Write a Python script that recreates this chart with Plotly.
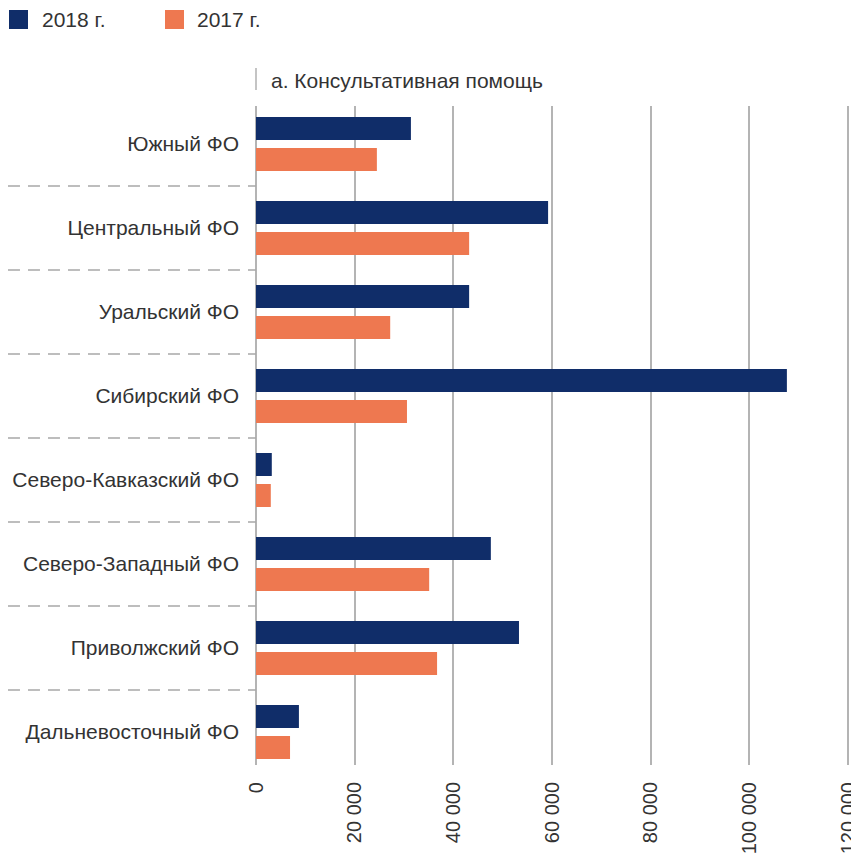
import plotly.graph_objects as go

categories = ["Южный ФО", "Центральный ФО", "Уральский ФО", "Сибирский ФО",
              "Северо-Кавказский ФО", "Северо-Западный ФО", "Приволжский ФО",
              "Дальневосточный ФО"]
values_2018 = [31400, 59200, 43200, 107600, 3200, 47600, 53300, 8700]
values_2017 = [24500, 43200, 27200, 30600, 3000, 35100, 36700, 6900]
series_names = ["2018 г.", "2017 г."]
tick_values = [0, 20000, 40000, 60000, 80000, 100000, 120000]
tick_labels = ["0", "20 000", "40 000", "60 000", "80 000", "100 000", "120 000"]
title_text = "а. Консультативная помощь"

NAVY = "#102D69"
ORANGE = "#EE7850"
GRID = "#b4b4b4"
TXT = "#333333"
FONT = "Liberation Sans"

OFF = 8  # page body margin
W, H = 859 - OFF, 855 - OFF
XMAX = 121000
PL, PT, PB = 256, 106, 765
PR = PL + 592 * XMAX / 120000
L, T = PL - OFF, PT - OFF
R, B = W - (PR - OFF), H - (PB - OFF)
pw, ph = PR - PL, PB - PT

def px_x(px):
    return (px - PL) / pw

def px_y(py):
    return 1 + (PT - py) / ph

fig = go.Figure()
fig.add_trace(go.Bar(y=categories, x=values_2018, name=series_names[0], orientation="h",
                     marker=dict(color=NAVY, line=dict(width=0)), showlegend=False))
fig.add_trace(go.Bar(y=categories, x=values_2017, name=series_names[1], orientation="h",
                     marker=dict(color=ORANGE, line=dict(width=0)), showlegend=False))

shapes = []
for i in range(len(categories) - 1):
    shapes.append(dict(type="line", xref="paper", yref="y",
                       x0=px_x(8), x1=0, y0=i + 0.5, y1=i + 0.5,
                       line=dict(color="#a8a8a8", width=1.5, dash="12px,8px")))
shapes.append(dict(type="line", xref="paper", yref="paper", x0=0, x1=0,
                   y0=px_y(90), y1=px_y(68), line=dict(color="#b0b0b0", width=1.5)))
for x0p, col in [(9, NAVY), (165, ORANGE)]:
    shapes.append(dict(type="rect", xref="paper", yref="paper",
                       x0=px_x(x0p), x1=px_x(x0p + 19), y0=px_y(29), y1=px_y(10),
                       fillcolor=col, line=dict(width=0)))

annotations = [
    dict(text=title_text, xref="paper", yref="paper", x=px_x(269), y=px_y(80),
         xanchor="left", yanchor="middle", showarrow=False,
         font=dict(family=FONT, size=21, color=TXT)),
    dict(text=series_names[0], xref="paper", yref="paper", x=px_x(40), y=px_y(19.5),
         xanchor="left", yanchor="middle", showarrow=False,
         font=dict(family=FONT, size=21, color=TXT)),
    dict(text=series_names[1], xref="paper", yref="paper", x=px_x(195), y=px_y(19.5),
         xanchor="left", yanchor="middle", showarrow=False,
         font=dict(family=FONT, size=21, color=TXT)),
]

fig.update_layout(
    width=W, height=H,
    margin=dict(l=L, r=R, t=T, b=B, pad=0, autoexpand=False),
    paper_bgcolor="white", plot_bgcolor="white",
    barmode="group", bargap=0.262, bargroupgap=0.258,
    showlegend=False,
    shapes=shapes, annotations=annotations,
    font=dict(family=FONT, color=TXT),
    xaxis=dict(range=[0, XMAX], tickvals=tick_values, ticktext=tick_labels,
               tickangle=-90, showgrid=True, gridcolor=GRID, gridwidth=1.5,
               zeroline=True, zerolinecolor=GRID, zerolinewidth=1.5,
               showline=False, ticks="", tickfont=dict(family=FONT, size=20, color=TXT),
               ticklabelstandoff=12, automargin=False, fixedrange=True),
    yaxis=dict(categoryorder="array", categoryarray=categories,
               range=[7.393, -0.452], showgrid=False, zeroline=False,
               showline=False, ticks="", ticklabelstandoff=16, automargin=False,
               tickfont=dict(family=FONT, size=21, color=TXT), fixedrange=True),
)

fig.write_html("out.html")
